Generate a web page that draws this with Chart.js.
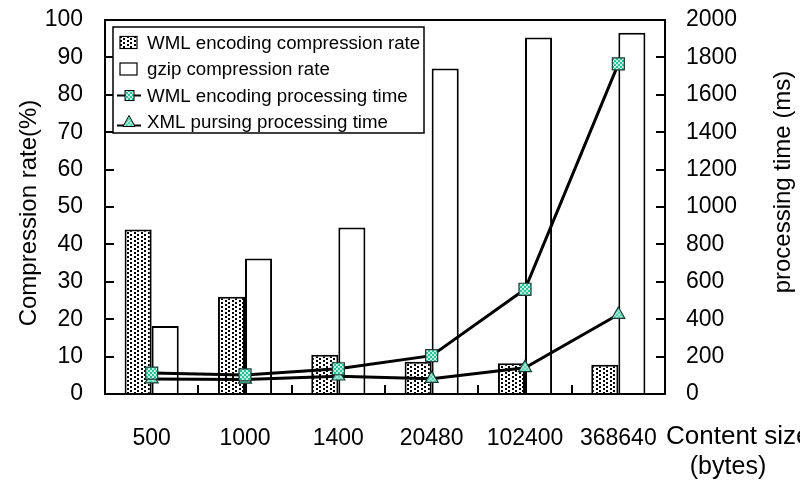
<!DOCTYPE html>
<html>
<head>
<meta charset="utf-8">
<script src="https://cdn.jsdelivr.net/npm/chart.js@4.4.0/dist/chart.umd.min.js"></script>
<style>
  html, body { margin: 0; padding: 0; background: #fff; }
  canvas { display: block; }
</style>
</head>
<body>
<canvas id="chart" width="800" height="483"></canvas>
<script>
// Data
const categories = ['500', '1000', '1400', '20480', '102400', '368640'];
const wmlRate = [44, 26, 10.5, 8.6, 8.2, 7.8];        // WML encoding compression rate (%)
const gzipRate = [18.2, 36.2, 44.5, 87, 95.3, 96.6];  // gzip compression rate (%)
const wmlTime = [112, 102, 135, 205, 560, 1765];      // WML encoding processing time (ms)
const xmlTime = [80, 78, 95, 82, 140, 425];           // XML pursing processing time (ms)
const seriesLabels = [
    'WML encoding compression rate',
    'gzip compression rate',
    'WML encoding processing time',
    'XML pursing processing time'
];

const FONT = '"Liberation Sans", Arial, Helvetica, sans-serif';

// Dotted fill for the WML bars
function makeDotPattern() {
    const c = document.createElement('canvas');
    c.width = 7;
    c.height = 8;
    const g = c.getContext('2d');
    g.fillStyle = '#fff';
    g.fillRect(0, 0, 7, 8);
    g.fillStyle = '#000';
    g.fillRect(1, 0, 2, 2);
    g.fillRect(1, 4, 2, 2);
    g.fillRect(4, 2, 2, 2);
    g.fillRect(4, 6, 2, 2);
    return g.createPattern(c, 'repeat');
}

// Small checker fill for the markers
function makeCheckPattern(a, b, cell) {
    const c = document.createElement('canvas');
    c.width = cell * 2;
    c.height = cell * 2;
    const g = c.getContext('2d');
    g.fillStyle = a;
    g.fillRect(0, 0, cell * 2, cell * 2);
    g.fillStyle = b;
    g.fillRect(0, 0, cell, cell);
    g.fillRect(cell, cell, cell, cell);
    return g.createPattern(c, 'repeat');
}

const dotFill = makeDotPattern();
const squareFill = makeCheckPattern('#2fbf98', '#bdf2e2', 2);
const triangleFill = makeCheckPattern('#5fd3b2', '#9fe8d2', 2);

// keep the y axes from pushing the plot area down
function fixedWidth(w) {
    return scale => {
        scale.width = w;
        scale.paddingTop = 0;
        scale.paddingBottom = 0;
    };
}

// Frame box and inward tick marks
const framePlugin = {
    id: 'frame',
    afterDatasetsDraw(chart) {
        const { ctx, chartArea: a, scales } = chart;
        ctx.save();
        ctx.strokeStyle = '#000';
        ctx.lineWidth = 2;
        ctx.strokeRect(a.left, a.top, a.right - a.left, a.bottom - a.top);

        ctx.beginPath();
        scales.y.ticks.slice(1, -1).forEach(t => {
            const y = Math.round(scales.y.getPixelForValue(t.value));
            ctx.moveTo(a.left, y);
            ctx.lineTo(a.left + 9, y);
        });
        scales.y2.ticks.slice(1, -1).forEach(t => {
            const y = Math.round(scales.y2.getPixelForValue(t.value));
            ctx.moveTo(a.right, y);
            ctx.lineTo(a.right - 9, y);
        });
        for (let i = 1; i < categories.length; i++) {
            const x = Math.round((scales.x.getPixelForValue(i - 1) + scales.x.getPixelForValue(i)) / 2);
            ctx.moveTo(x, a.bottom);
            ctx.lineTo(x, a.bottom - 9);
        }
        ctx.stroke();
        ctx.restore();
    }
};

// Axis titles and the boxed legend
const textPlugin = {
    id: 'texts',
    afterDraw(chart) {
        const { ctx } = chart;
        ctx.save();
        ctx.fillStyle = '#000';

        // left title, reading bottom to top
        ctx.font = '24px ' + FONT;
        ctx.textAlign = 'center';
        ctx.textBaseline = 'alphabetic';
        ctx.save();
        ctx.translate(36, 213);
        ctx.rotate(-Math.PI / 2);
        ctx.fillText('Compression rate(%)', 0, 0);
        ctx.restore();

        // right title, also bottom to top
        ctx.save();
        ctx.translate(790, 182);
        ctx.rotate(-Math.PI / 2);
        ctx.fillText('processing time (ms)', 0, 0);
        ctx.restore();

        // x title, cut by the right edge as in the original
        ctx.font = '26px ' + FONT;
        ctx.textAlign = 'left';
        ctx.textBaseline = 'middle';
        ctx.fillText('Content size', 666, 437);
        ctx.font = '25px ' + FONT;
        ctx.textAlign = 'center';
        ctx.fillText('(bytes)', 728, 467);

        // legend
        const box = { x: 113, y: 27, w: 311, h: 106 };
        ctx.fillStyle = '#fff';
        ctx.fillRect(box.x, box.y, box.w, box.h);
        ctx.strokeStyle = '#000';
        ctx.lineWidth = 1.5;
        ctx.strokeRect(box.x, box.y, box.w, box.h);

        const rows = [42.5, 69, 95.5, 121.5];
        const ds = chart.data.datasets;
        ctx.font = '18.7px ' + FONT;
        ctx.textAlign = 'left';
        ctx.textBaseline = 'middle';
        rows.forEach((y, i) => {
            ctx.fillStyle = '#000';
            ctx.fillText(ds[i].label, 147, y + 1);
        });

        // bar swatches
        ctx.lineWidth = 1.2;
        ctx.fillStyle = dotFill;
        ctx.fillRect(120, rows[0] - 6, 17, 12);
        ctx.strokeRect(120, rows[0] - 6, 17, 12);
        ctx.fillStyle = '#fff';
        ctx.fillRect(120, rows[1] - 6, 17, 12);
        ctx.strokeRect(120, rows[1] - 6, 17, 12);

        // line swatches
        ctx.lineWidth = 2;
        ctx.beginPath();
        ctx.moveTo(117, rows[2]);
        ctx.lineTo(141, rows[2]);
        ctx.moveTo(117, rows[3] + 4);
        ctx.lineTo(141, rows[3] + 4);
        ctx.stroke();
        ctx.lineWidth = 1;
        ctx.fillStyle = squareFill;
        ctx.fillRect(125, rows[2] - 5, 9, 10);
        ctx.strokeRect(125, rows[2] - 5, 9, 10);
        ctx.fillStyle = triangleFill;
        ctx.beginPath();
        ctx.moveTo(129, rows[3] - 6);
        ctx.lineTo(135, rows[3] + 5);
        ctx.lineTo(123, rows[3] + 5);
        ctx.closePath();
        ctx.fill();
        ctx.stroke();

        ctx.restore();
    }
};

const ctx = document.getElementById('chart').getContext('2d');

new Chart(ctx, {
    type: 'bar',
    data: {
        labels: categories,
        datasets: [
            {
                label: seriesLabels[0],
                data: wmlRate,
                yAxisID: 'y',
                backgroundColor: dotFill,
                borderColor: '#000',
                borderWidth: 2,
                order: 2
            },
            {
                label: seriesLabels[1],
                data: gzipRate,
                yAxisID: 'y',
                backgroundColor: '#fff',
                borderColor: '#000',
                borderWidth: 2,
                order: 2
            },
            {
                type: 'line',
                label: seriesLabels[2],
                data: wmlTime,
                yAxisID: 'y2',
                borderColor: '#000',
                borderWidth: 3,
                pointStyle: 'rect',
                pointRadius: 8.5,
                pointBackgroundColor: squareFill,
                pointBorderColor: '#1a3a33',
                pointBorderWidth: 1.2,
                order: 0
            },
            {
                type: 'line',
                label: seriesLabels[3],
                data: xmlTime,
                yAxisID: 'y2',
                borderColor: '#000',
                borderWidth: 3,
                pointStyle: 'triangle',
                pointRadius: 7.5,
                pointBackgroundColor: triangleFill,
                pointBorderColor: '#1a3a33',
                pointBorderWidth: 1.2,
                order: 1
            }
        ]
    },
    options: {
        responsive: false,
        animation: false,
        devicePixelRatio: 1,
        layout: { padding: { top: 20, left: 0, right: 0, bottom: 0 } },
        datasets: {
            bar: { barPercentage: 1, categoryPercentage: 0.58 }
        },
        plugins: {
            legend: { display: false },
            tooltip: { enabled: false }
        },
        scales: {
            x: {
                offset: true,
                grid: { display: false, drawTicks: false },
                border: { display: false },
                ticks: {
                    color: '#000',
                    padding: 31,
                    maxRotation: 0,
                    autoSkip: false,
                    font: { family: FONT, size: 23 }
                },
                afterFit(scale) { scale.height = 89; }
            },
            y: {
                position: 'left',
                min: 0,
                max: 100,
                grid: { display: false, drawTicks: false },
                border: { display: false },
                ticks: {
                    stepSize: 10,
                    color: '#000',
                    padding: 22,
                    font: { family: FONT, size: 23 }
                },
                afterFit: fixedWidth(105)
            },
            y2: {
                position: 'right',
                min: 0,
                max: 2000,
                grid: { display: false, drawTicks: false },
                border: { display: false },
                ticks: {
                    stepSize: 200,
                    color: '#000',
                    padding: 21,
                    font: { family: FONT, size: 23 },
                    callback: value => String(value)
                },
                afterFit: fixedWidth(135)
            }
        }
    },
    plugins: [framePlugin, textPlugin]
});
</script>
</body>
</html>
